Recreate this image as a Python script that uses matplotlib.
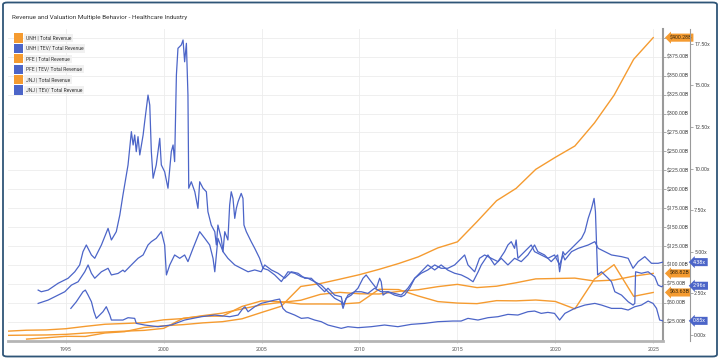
import matplotlib
matplotlib.use("Agg")
import matplotlib.pyplot as plt
from matplotlib.patches import FancyBboxPatch, Rectangle

plt.rcParams['font.family'] = ['Roboto', 'DejaVu Sans']

# ---------------- data ----------------
title = "Revenue and Valuation Multiple Behavior - Healthcare Industry"
legend_labels = ["UNH | Total Revenue", "UNH | TEV/ Total Revenue",
                 "PFE | Total Revenue", "PFE | TEV/ Total Revenue",
                 "JNJ | Total Revenue", "JNJ | TEV/ Total Revenue"]

# annual total revenue ($B), plotted at the start of the following year
unh_rev_t = [1993, 1994, 1995, 1996, 1997, 1998, 1999, 2000, 2001, 2002, 2003, 2004, 2005,
             2006, 2007, 2008, 2009, 2010, 2011, 2012, 2013, 2014, 2015, 2016, 2017, 2018,
             2019, 2020, 2021, 2022, 2023, 2024, 2025]
unh_rev_v = [2.0, 3.77, 5.67, 5.51, 10.07, 11.79, 17.36, 19.56, 21.12, 23.45, 25.02, 28.82,
             37.22, 45.37, 71.54, 75.43, 81.19, 87.14, 94.16, 101.86, 110.62, 122.49, 130.47,
             157.11, 184.84, 201.16, 226.25, 242.16, 257.14, 287.6, 324.16, 371.62, 400.28]

pfe_rev_t = [1992, 1993, 1994, 1995, 1996, 1997, 1998, 1999, 2000, 2001, 2002, 2003, 2004,
             2005, 2006, 2007, 2008, 2009, 2010, 2011, 2012, 2013, 2014, 2015, 2016, 2017,
             2018, 2019, 2020, 2021, 2022, 2023, 2024, 2025]
pfe_rev_v = [6.95, 7.23, 7.48, 8.28, 10.02, 11.31, 12.50, 13.54, 16.20, 29.57, 32.26, 32.37,
             45.19, 52.52, 51.30, 48.37, 48.42, 48.30, 50.01, 67.81, 67.43, 58.99, 51.58,
             49.61, 48.85, 52.82, 52.55, 53.65, 51.75, 41.91, 81.29, 100.33, 58.50, 63.63]

jnj_rev_t = pfe_rev_t
jnj_rev_v = [12.45, 13.75, 14.14, 15.73, 18.84, 21.62, 22.63, 23.66, 27.47, 29.14, 33.00,
             36.30, 41.86, 47.35, 50.51, 53.32, 61.10, 63.75, 61.90, 61.59, 65.03, 67.22,
             71.31, 74.33, 70.07, 71.89, 76.45, 81.58, 82.06, 82.58, 78.74, 79.99, 85.16, 88.82]

# TEV / total revenue (x)
pfe_tev_t = [1993.59, 1993.75, 1994.10, 1994.61, 1995.12, 1995.46, 1995.71, 1995.88, 1996.05,
             1996.31, 1996.48, 1996.82, 1997.16, 1997.33, 1997.58, 1997.76, 1997.92, 1998.18,
             1998.35, 1998.44, 1998.52, 1998.60, 1998.69, 1998.78, 1998.95, 1999.03, 1999.20,
             1999.29, 1999.37, 1999.46, 1999.62, 1999.80, 1999.88, 2000.05, 2000.22, 2000.39,
             2000.48, 2000.56, 2000.65, 2000.73, 2000.90, 2000.99, 2001.07, 2001.16, 2001.24,
             2001.28, 2001.41, 2001.59, 2001.75, 2001.84, 2002.01, 2002.18, 2002.26, 2002.43,
             2002.61, 2002.69, 2002.77, 2002.94, 2003.03, 2003.12, 2003.28, 2003.37, 2003.45,
             2003.54, 2003.63, 2003.71, 2003.80, 2003.96, 2004.05, 2004.10, 2004.22, 2004.47,
             2004.65, 2004.90, 2005.07, 2005.33, 2005.67, 2006.01, 2006.35, 2006.69, 2007.03,
             2007.37, 2007.71, 2008.05, 2008.39, 2008.73, 2009.07, 2009.16, 2009.32, 2009.58,
             2009.92, 2010.18, 2010.34, 2010.60, 2010.86, 2011.03, 2011.11, 2011.20, 2011.45,
             2011.79, 2012.13, 2012.30, 2012.56, 2012.82, 2013.15, 2013.49, 2013.84, 2014.17,
             2014.51, 2014.86, 2015.20, 2015.54, 2015.80, 2016.06, 2016.22, 2016.56, 2016.90,
             2017.24, 2017.58, 2017.92, 2018.26, 2018.60, 2018.94, 2019.11, 2019.45, 2019.79,
             2020.12, 2020.22, 2020.39, 2020.49, 2020.83, 2021.17, 2021.34, 2021.51, 2021.68,
             2021.85, 2021.98, 2022.05, 2022.11, 2022.16, 2022.36, 2022.70, 2022.87, 2023.04,
             2023.38, 2023.72, 2023.97, 2024.06, 2024.10, 2024.40, 2024.74, 2025.08, 2025.25,
             2025.42, 2025.50]
pfe_tev_v = [2.70, 2.60, 2.70, 3.11, 3.41, 3.80, 4.21, 5.01, 5.41,
             4.81, 4.61, 5.41, 6.41, 5.71, 6.21, 7.21, 8.41, 10.22,
             12.22, 11.42, 12.02, 11.02, 11.92, 10.82, 12.02, 12.82, 14.42,
             13.82, 11.02, 9.42, 10.22, 11.82, 10.22, 9.81, 8.82, 11.02,
             11.42, 10.42, 15.63, 17.23, 17.43, 17.73, 16.42, 17.53, 14.42,
             8.82, 9.21, 8.61, 7.61, 9.21, 8.82, 8.61, 7.41, 6.61,
             6.21, 5.41, 6.61, 5.81, 5.01, 6.21, 5.71, 7.81, 8.61,
             8.21, 7.01, 7.61, 8.01, 8.51, 8.21, 6.61, 6.21, 5.61,
             5.21, 4.61, 4.01, 3.91, 3.61, 3.21, 3.80, 3.71, 3.50,
             3.41, 3.20, 3.00, 2.60, 2.21, 2.00, 1.60, 2.21, 2.40,
             2.81, 3.41, 3.61, 3.20, 2.81, 3.41, 3.20, 2.40, 2.60,
             2.40, 2.30, 2.40, 2.81, 3.41, 3.80, 4.21, 3.91, 4.21,
             3.90, 3.71, 3.61, 3.41, 3.20, 3.80, 4.21, 4.81, 4.21,
             4.61, 4.21, 4.61, 4.41, 4.81, 5.41, 5.01, 4.81, 4.41,
             4.81, 3.80, 5.01, 4.81, 5.21, 5.61, 5.81, 6.21, 7.01,
             7.61, 8.21, 7.41, 5.41, 3.61, 3.80, 3.41, 3.20, 2.60,
             2.40, 2.00, 1.80, 1.90, 3.80, 3.71, 3.80, 3.50, 3.00,
             2.90, 2.96]

jnj_tev_t = [1993.59, 1994.10, 1994.61, 1994.95, 1995.29, 1995.63, 1995.97, 1996.14, 1996.31,
             1996.48, 1996.82, 1997.16, 1997.33, 1997.67, 1997.92, 1998.01, 1998.35, 1998.69,
             1998.95, 1999.20, 1999.37, 1999.62, 1999.88, 2000.05, 2000.14, 2000.31, 2000.56,
             2000.82, 2001.07, 2001.24, 2001.50, 2001.84, 2002.10, 2002.35, 2002.52, 2002.61,
             2002.77, 2003.03, 2003.28, 2003.63, 2003.96, 2004.31, 2004.65, 2004.98, 2005.16,
             2005.50, 2005.84, 2006.18, 2006.52, 2006.86, 2007.20, 2007.54, 2007.88, 2008.22,
             2008.39, 2008.73, 2009.07, 2009.16, 2009.41, 2009.75, 2010.09, 2010.43, 2010.77,
             2011.11, 2011.45, 2011.79, 2012.13, 2012.47, 2012.82, 2013.15, 2013.49, 2013.84,
             2014.17, 2014.51, 2014.86, 2015.20, 2015.37, 2015.54, 2015.88, 2016.13, 2016.39,
             2016.73, 2017.07, 2017.41, 2017.58, 2017.75, 2017.92, 2018.00, 2018.09, 2018.26,
             2018.60, 2018.77, 2018.94, 2019.28, 2019.62, 2019.96, 2020.22, 2020.39, 2020.49,
             2020.83, 2021.17, 2021.68, 2022.02, 2022.19, 2022.53, 2022.87, 2023.38, 2023.72,
             2023.97, 2024.23, 2024.57, 2024.91, 2025.25, 2025.50]
jnj_tev_v = [1.90, 2.10, 2.40, 2.60, 3.00, 3.20, 3.80, 4.21, 3.71,
             3.41, 3.80, 4.01, 3.61, 3.70, 3.90, 3.80, 4.21, 4.61,
             4.81, 5.41, 5.61, 5.81, 6.21, 5.41, 3.61, 4.21, 4.81,
             4.61, 4.81, 4.41, 5.21, 6.21, 5.81, 5.41, 4.61, 3.80,
             5.81, 5.01, 4.61, 4.21, 4.01, 3.80, 3.91, 3.80, 4.21,
             3.91, 3.71, 3.41, 3.80, 3.71, 3.41, 3.41, 3.00, 2.60,
             2.81, 2.40, 2.30, 1.80, 2.40, 2.60, 2.60, 2.50, 2.81,
             2.60, 2.60, 2.50, 2.40, 2.81, 3.41, 3.71, 3.91, 4.21,
             4.01, 4.01, 4.21, 4.61, 4.81, 4.21, 3.80, 4.61, 4.81,
             4.61, 4.41, 5.01, 5.41, 5.61, 5.21, 5.71, 4.61, 4.81,
             5.21, 5.41, 5.01, 4.81, 4.61, 4.81, 4.21, 4.81, 4.51,
             5.01, 5.21, 5.41, 5.61, 5.21, 5.01, 4.81, 4.71, 4.61,
             4.01, 4.41, 4.71, 4.31, 4.31, 4.38]

unh_tev_t = [1995.26, 1995.54, 1995.88, 1996.00, 1996.14, 1996.31, 1996.44, 1996.56, 1996.90,
             1997.07, 1997.25, 1997.33, 1997.67, 1997.92, 1998.18, 1998.52, 1998.60, 1999.03,
             1999.71, 2000.39, 2001.07, 2001.92, 2002.61, 2003.37, 2003.80, 2004.05, 2004.15,
             2004.31, 2004.65, 2004.98, 2005.33, 2005.67, 2005.92, 2006.09, 2006.26, 2006.69,
             2007.03, 2007.37, 2007.71, 2008.05, 2008.39, 2008.73, 2009.07, 2009.41, 2009.92,
             2010.60, 2011.28, 2011.96, 2012.64, 2013.33, 2014.00, 2014.77, 2015.19, 2015.54,
             2016.05, 2016.56, 2017.07, 2017.58, 2018.09, 2018.60, 2018.94, 2019.28, 2019.62,
             2019.96, 2020.22, 2020.49, 2020.99, 2021.51, 2022.02, 2022.36, 2022.87, 2023.38,
             2023.72, 2024.06, 2024.40, 2024.74, 2024.99, 2025.17, 2025.33, 2025.50]
unh_tev_v = [1.60, 2.00, 2.60, 2.70, 2.40, 2.00, 1.40, 1.00, 1.40,
             1.70, 1.20, 0.90, 0.90, 0.90, 1.04, 1.00, 0.70, 0.60,
             0.50, 0.60, 0.90, 1.10, 1.20, 1.10, 1.20, 1.60, 1.70,
             1.40, 1.70, 1.90, 2.00, 2.10, 2.16, 1.60, 1.40, 1.20,
             1.00, 1.04, 0.90, 0.80, 0.60, 0.50, 0.40, 0.50, 0.44,
             0.50, 0.60, 0.50, 0.64, 0.70, 0.80, 0.84, 0.84, 1.00,
             0.90, 1.04, 1.10, 1.24, 1.20, 1.40, 1.44, 1.30, 1.36,
             1.30, 0.90, 1.30, 1.60, 1.80, 1.90, 1.80, 1.60, 1.60,
             1.50, 1.70, 1.80, 2.04, 1.90, 1.60, 0.90, 0.85]

year_ticks = [1995, 2000, 2005, 2010, 2015, 2020, 2025]
usd_ticks = [25, 50, 75, 100, 125, 150, 175, 200, 225, 250, 275, 300, 325, 350, 375, 400]
mult_ticks = [0, 2.5, 5, 7.5, 10, 12.5, 15, 17.5]

# ---------------- style ----------------
ORANGE = '#F59B30'
BLUE = '#4C65C8'
W, H = 720, 359

fig = plt.figure(figsize=(7.2, 3.59), dpi=100)
ax = fig.add_axes([8 / W, 1 - 341 / H, 655 / W, 312 / H])
ax2 = ax.twinx()

ax.plot(unh_rev_t, unh_rev_v, color=ORANGE, lw=1.0, zorder=3)
ax.plot(pfe_rev_t, pfe_rev_v, color=ORANGE, lw=1.0, zorder=3)
ax.plot(jnj_rev_t, jnj_rev_v, color=ORANGE, lw=1.0, zorder=3)

ax2.plot(unh_tev_t, unh_tev_v, color=BLUE, lw=0.9)
ax2.plot(pfe_tev_t, pfe_tev_v, color=BLUE, lw=0.9)
ax2.plot(jnj_tev_t, jnj_tev_v, color=BLUE, lw=0.9)

ax.set_xlim(1992.05, 2025.5)
ax.set_ylim(-0.5, 411.7)
ax2.set_ylim(-0.36, 18.39)

# x axis
ax.set_xticks(year_ticks)
ax.set_xticklabels([str(y) for y in year_ticks])
ax.tick_params(axis='x', labelsize=3.8, length=1.5, width=0.5, color='#bbbbbb',
               labelcolor='#555555', pad=3)

# $ axis on the right (top tick label hidden under the end tag, as in the original)
ax.yaxis.tick_right()
ax.set_yticks(usd_ticks)
ax.set_yticklabels([f"${v:.2f}B" if v < max(unh_rev_v) - 5 else "" for v in usd_ticks])
ax.tick_params(axis='y', labelsize=3.8, length=2, width=0.5, color='#888888',
               labelcolor='#444444', pad=1)
ax.grid(True, color='#ececec', lw=0.6, zorder=0)
ax.set_axisbelow(True)
for s in ['left', 'top']:
    ax.spines[s].set_visible(False)
ax.spines['right'].set_color('#9a9a9a')
ax.spines['right'].set_linewidth(1.5)
ax.spines['bottom'].set_color('#b5b5b5')
ax.spines['bottom'].set_linewidth(2.0)

# multiple axis
for s in ['left', 'top', 'bottom']:
    ax2.spines[s].set_visible(False)
ax2.spines['right'].set_position(('axes', 1 + 27 / 655))
ax2.spines['right'].set_color('#9a9a9a')
ax2.spines['right'].set_linewidth(0.8)
ax2.set_yticks(mult_ticks)
ax2.set_yticklabels([f"{v:.2f}x" for v in mult_ticks])
ax2.tick_params(axis='y', labelsize=3.8, length=2, width=0.5, color='#888888',
                labelcolor='#444444', pad=1)

# end-value tags
for val in [unh_rev_v[-1], jnj_rev_v[-1], pfe_rev_v[-1]]:
    ax.annotate(f"${val:.2f}B", xy=(1.0, val), xycoords=('axes fraction', 'data'),
                xytext=(4.6, 0), textcoords='offset points', ha='left', va='center',
                fontsize=3.9, color='#3a2a10', annotation_clip=False, zorder=10,
                bbox=dict(boxstyle='larrow,pad=0.28', fc=ORANGE, ec='none'))
for val in [jnj_tev_v[-1], pfe_tev_v[-1], unh_tev_v[-1]]:
    ax2.annotate(f"{val:.2f}x", xy=(1 + 27 / 655, val), xycoords=('axes fraction', 'data'),
                 xytext=(2.3, 0), textcoords='offset points', ha='left', va='center',
                 fontsize=3.9, color='white', annotation_clip=False, zorder=10,
                 bbox=dict(boxstyle='larrow,pad=0.28', fc=BLUE, ec='none'))

# title
fig.text(12 / W, 1 - 17 / H, title, fontsize=4.6, color='#333333', va='center', ha='left')

# legend
colors = [ORANGE, BLUE, ORANGE, BLUE, ORANGE, BLUE]
for i, (lab, c) in enumerate(zip(legend_labels, colors)):
    yc = 38 + i * 10.4
    fig.patches.append(Rectangle((14 / W, 1 - (yc + 4.6) / H), 9.2 / W, 9.2 / H,
                                 transform=fig.transFigure, fc=c, ec='none'))
    fig.text(26 / W, 1 - yc / H, lab, fontsize=3.6, color='#333333', va='center', ha='left',
             bbox=dict(boxstyle='square,pad=0.35', fc='#f1f1f1', ec='none'))

# outer rounded frame
fig.patches.append(FancyBboxPatch((3 / W, 2.5 / H), 714 / W, 354 / H,
                                  boxstyle='round,pad=0,rounding_size=0.006',
                                  transform=fig.transFigure, fc='none', ec='#2f5577', lw=1.3))

fig.savefig('out.png', dpi=100)
